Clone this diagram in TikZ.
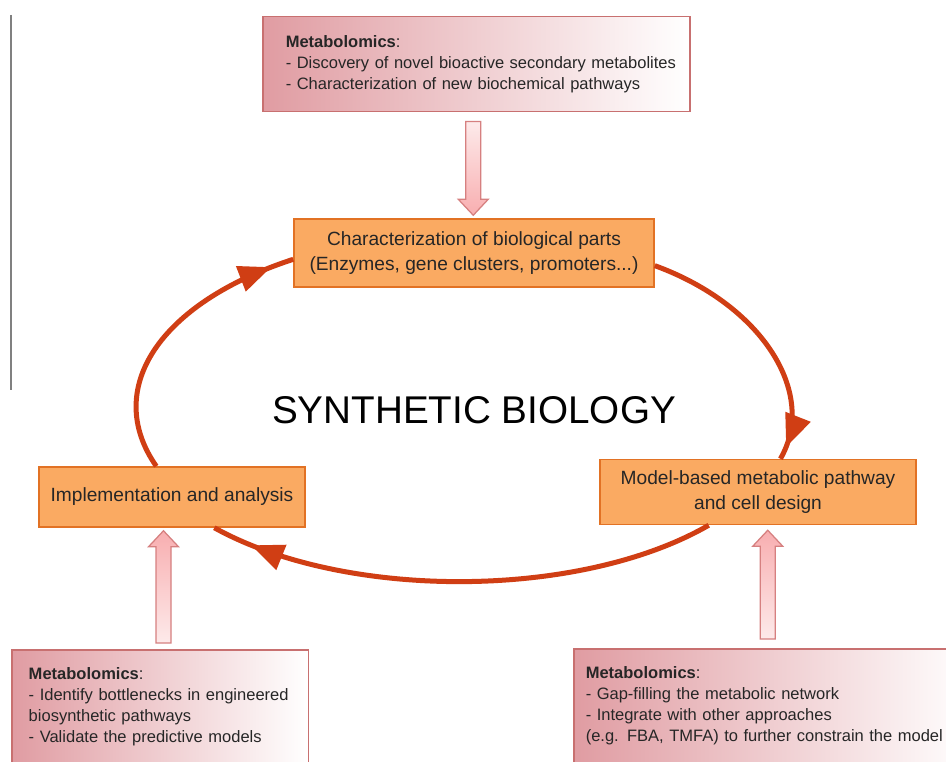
\documentclass[tikz,border=0pt]{standalone}
\usepackage{fontspec}
\setmainfont{Liberation Sans}
\usetikzlibrary{arrows.meta,decorations.markings,calc}

\definecolor{stagefill}{RGB}{250,170,98}
\definecolor{stageline}{RGB}{226,114,36}
\definecolor{cyclered}{RGB}{208,62,20}
\definecolor{metaleft}{RGB}{224,156,162}
\definecolor{metaline}{RGB}{200,112,112}
\definecolor{arrowpink}{RGB}{248,174,176}
\definecolor{arrowpale}{RGB}{253,234,234}
\definecolor{arrowline}{RGB}{214,128,128}

\tikzset{
  stage/.style={draw=stageline, line width=0.3mm, fill=stagefill, align=center,
    text=black!85, font=\fontsize{10.9}{14.3}\selectfont, inner sep=0pt},
  metabox/.style={draw=metaline, line width=0.3mm, left color=metaleft, right color=white,
    align=left, anchor=north west, text=black!85, font=\fontsize{9.4}{11.9}\selectfont},
  cyclepath/.style={draw=cyclered, line width=1mm},
  tipat/.style={postaction={decorate}, decoration={markings,
    mark=at position #1 with {\arrow{Triangle[length=6.5mm,width=5.2mm]}}}},
  pinkshaft/.style={draw=arrowline, line width=0.25mm}
}

% block arrow from tail (#2) to tip (#3), vertical
\newcommand{\pinkarrow}[3][]{%
  \draw[pinkshaft,#1] let \p1=(#2), \p2=(#3), \n1={sign(\y2-\y1)} in
    (\x1-1.5mm,\y1) -- (\x1-1.5mm,\y2-\n1*3.2mm) -- (\x1-3mm,\y2-\n1*3.2mm) --
    (\x1,\y2) -- (\x1+3mm,\y2-\n1*3.2mm) -- (\x1+1.5mm,\y2-\n1*3.2mm) --
    (\x1+1.5mm,\y1) -- cycle;}

\begin{document}
\begin{tikzpicture}[x=0.2mm,y=0.2mm]

  \fill[white] (0,0) rectangle (946,761);
  \useasboundingbox (0,0) rectangle (946,761);

  % margin line
  \draw[gray, line width=0.3mm] (11,746) -- (11,371);

  % stages of the cycle
  \node[stage, minimum width=72mm, minimum height=13.6mm] (char) at (474,508)
    {Characterization of biological parts\\(Enzymes, gene clusters, promoters...)};
  \node[stage, minimum width=63.2mm, minimum height=13mm] (model) at (758,269)
    {Model-based metabolic pathway\\and cell design};
  \node[stage, minimum width=53.2mm, minimum height=12mm] (impl) at (172,264)
    {Implementation and analysis};

  \node[font=\fontsize{22}{26}\selectfont] (title) at (474,351) {SYNTHETIC BIOLOGY};

  % metabolomics boxes
  \node[metabox, text width=76.2mm, inner xsep=4.6mm, minimum height=19mm] (metatop) at (262,745)
    {\textbf{Metabolomics}:\\\mbox{- Discovery of novel bioactive secondary metabolites}\\- Characterization of new biochemical pathways};
  \node[metabox, text width=52.5mm, inner xsep=3.4mm, inner ysep=3.6mm] (metabl) at (11,112)
    {\textbf{Metabolomics}:\\- Identify bottlenecks in engineered\\biosynthetic pathways\\- Validate the predictive models\rule[-8mm]{0pt}{0pt}};
  \node[metabox, text width=75mm, inner xsep=2.4mm, inner ysep=3.6mm] (metabr) at (573,113)
    {\textbf{Metabolomics}:\\- Gap-filling the metabolic network\\- Integrate with other approaches\\(e.g. FBA, TMFA) to further constrain the model\rule[-8mm]{0pt}{0pt}};

  % cycle
  \draw[cyclepath, tipat=0.95] (char.-4) to[out=-20, in=60, out distance=23mm, in distance=15mm] (model.56);
  \draw[cyclepath, tipat=0.92] (model.214) to[out=210, in=-29, out distance=29.6mm, in distance=30.1mm] (impl.-36);
  \draw[cyclepath, tipat=0.92] (impl.117) to[out=125, in=198, out distance=18.9mm, in distance=28.1mm] (char.182);

  % block arrows
  \pinkarrow[top color=arrowpale, bottom color=arrowpink]{$(metatop.south)+(-3,-9)$}{$(char.north)+(0,3)$}
  \pinkarrow[top color=arrowpink, bottom color=arrowpale]{$(metabl.north)+(3.5,6)$}{$(impl.south)+(0,-3)$}
  \pinkarrow[top color=arrowpink, bottom color=arrowpale]{$(metabr.north)+(-5.5,9)$}{$(model.south)+(0,-5)$}

\end{tikzpicture}
\end{document}
